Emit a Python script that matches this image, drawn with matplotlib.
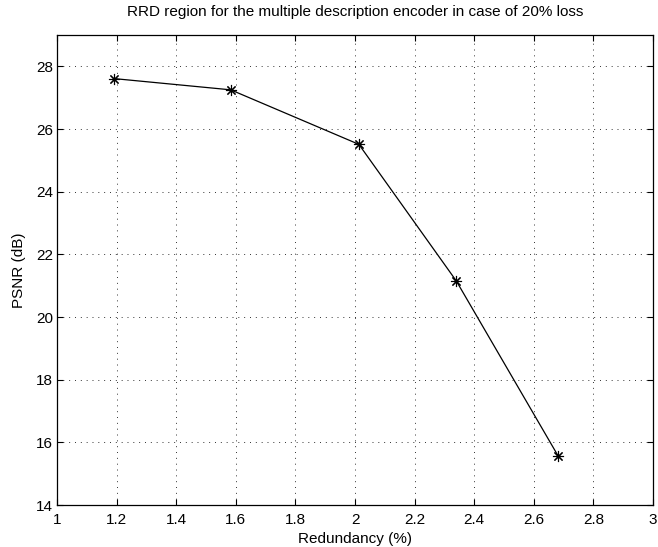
import matplotlib
matplotlib.use("Agg")
import matplotlib.pyplot as plt

redundancy = [1.19, 1.583, 2.013, 2.34, 2.682]
psnr = [27.61, 27.25, 25.51, 21.15, 15.56]
x_ticks = [1, 1.2, 1.4, 1.6, 1.8, 2, 2.2, 2.4, 2.6, 2.8, 3]
x_tick_labels = ["1", "1.2", "1.4", "1.6", "1.8", "2", "2.2", "2.4", "2.6", "2.8", "3"]
y_ticks = [14, 16, 18, 20, 22, 24, 26, 28]

plt.rcParams["font.family"] = ["Liberation Sans", "DejaVu Sans"]

fig = plt.figure(figsize=(6.58, 5.47), dpi=100)
ax = fig.add_axes([57 / 658, 1 - 505 / 547, (653 - 57) / 658, (505 - 35) / 547])

# asterisk markers joined by a thin solid line
ax.plot(redundancy, psnr, color="black", linewidth=0.9, marker=(8, 2, 0),
        markersize=8, markeredgecolor="black", markeredgewidth=0.8)

ax.set_xlim(1, 3)
ax.set_ylim(14, 29)
ax.set_xticks(x_ticks)
ax.set_xticklabels(x_tick_labels)
ax.set_yticks(y_ticks)
ax.tick_params(direction="in", top=True, right=True, length=4, width=0.8,
               labelsize=11)
ax.tick_params(axis="x", pad=6)
ax.tick_params(axis="y", pad=3)
ax.grid(True, linestyle=(0, (1, 5)), color="#333333", linewidth=0.7)
for sp in ax.spines.values():
    sp.set_linewidth(0.9)

ax.set_xlabel("Redundancy (%)", fontsize=11, labelpad=3)
ax.set_ylabel("PSNR (dB)", fontsize=11, labelpad=7)
ax.set_title("RRD region for the multiple description encoder in case of 20% loss",
             fontsize=11, pad=14)

fig.savefig("out.png", dpi=100)
